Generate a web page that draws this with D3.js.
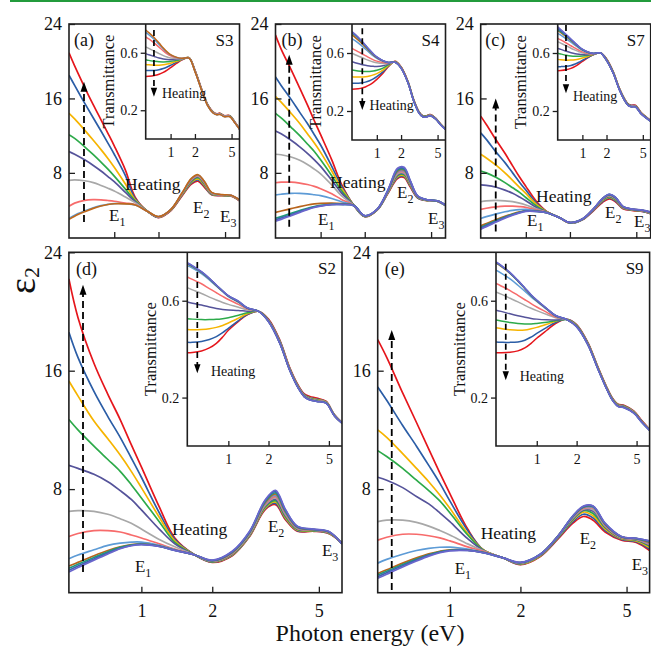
<!DOCTYPE html>
<html>
<head>
<meta charset="utf-8">
<script src="https://cdn.jsdelivr.net/npm/d3@7"></script>
<style>
  body { margin: 0; background: #fff; }
  svg { display: block; }
  text { font-family: "Liberation Serif", "Times New Roman", serif; fill: #111; }
</style>
</head>
<body>
<svg id="fig" width="651" height="648"></svg>
<script>
// Photon energy grid (eV) shared by every spectrum
const energyEV = [0.45, 0.5, 0.6, 0.7, 0.8, 0.9, 1.0, 1.2, 1.4, 1.7, 2.0, 2.4, 2.8, 3.2, 3.5, 3.8, 4.2, 4.8, 5.4, 6.0];

// Tick values
const epsTicks = [8, 16, 24];
const energyTicks = [1, 2, 5];
const transTicks = [0.2, 0.6];

// Line colours, in drawing order (first = lowest temperature)
const palette12 = ["#e5161c", "#2b5da6", "#f6b400", "#2daa4a", "#55539a", "#a8a8a8",
                   "#f76b6b", "#5d9bd6", "#b8641c", "#1f9a7c", "#3d63b0", "#6a66cc"];
const palette9 = ["#e5161c", "#2b5da6", "#f6b400", "#2daa4a", "#55539a", "#a8a8a8",
                  "#f76b6b", "#5d9bd6", "#c0681a"];

// ---- S3 ----
const eps2_S3 = [
  [20.9, 19.5, 17.2, 15.3, 13.7, 12.25, 10.9, 8.3, 5.4, 3.85, 3.2, 3.95, 5.5, 6.8, 7.1, 6.5, 5.65, 5.55, 5.5, 5.0],
  [18.5, 17.4, 15.5, 13.9, 12.5, 11.2, 10.0, 7.7, 5.25, 3.85, 3.22, 4.0, 5.57, 6.9, 7.23, 6.62, 5.68, 5.57, 5.51, 5.02],
  [14.4, 13.8, 12.6, 11.5, 10.5, 9.55, 8.6, 6.8, 5.1, 3.85, 3.24, 4.02, 5.62, 7.0, 7.36, 6.74, 5.72, 5.59, 5.53, 5.04],
  [12.1, 11.7, 10.8, 9.95, 9.15, 8.4, 7.65, 6.25, 5.0, 3.85, 3.25, 4.04, 5.67, 7.1, 7.48, 6.85, 5.76, 5.6, 5.54, 5.05],
  [10.3, 10.0, 9.4, 8.8, 8.2, 7.6, 7.05, 5.9, 4.9, 3.85, 3.26, 4.05, 5.71, 7.18, 7.58, 6.93, 5.8, 5.62, 5.56, 5.06],
  [7.2, 7.25, 7.15, 6.95, 6.65, 6.35, 6.05, 5.4, 4.8, 3.85, 3.27, 4.06, 5.74, 7.25, 7.66, 7.0, 5.83, 5.63, 5.57, 5.07],
  [4.4, 4.75, 5.05, 5.12, 5.1, 5.03, 4.95, 4.75, 4.6, 3.85, 3.28, 4.07, 5.76, 7.31, 7.72, 7.05, 5.86, 5.64, 5.58, 5.08],
  [3.1, 3.45, 3.9, 4.25, 4.48, 4.62, 4.7, 4.68, 4.55, 3.85, 3.29, 4.08, 5.78, 7.36, 7.77, 7.09, 5.88, 5.65, 5.59, 5.09],
  [3.0, 3.35, 3.82, 4.18, 4.44, 4.6, 4.68, 4.67, 4.55, 3.85, 3.3, 4.08, 5.8, 7.4, 7.8, 7.12, 5.9, 5.66, 5.6, 5.1]
];
const trans_S3 = [
  [.435, .436, .441, .45, .463, .479, .496, .527, .55, .566, .48, .345, .24, .19, .176, .18, .163, .163, .118, .072],
  [.477, .476, .477, .482, .49, .501, .513, .535, .552, .565, .478, .343, .238, .188, .175, .178, .162, .162, .117, .071],
  [.519, .516, .513, .513, .516, .521, .527, .541, .554, .565, .476, .341, .236, .187, .174, .177, .161, .161, .116, .071],
  [.552, .547, .541, .537, .536, .537, .54, .547, .556, .565, .475, .34, .235, .186, .173, .176, .16, .16, .115, .07],
  [.594, .586, .574, .564, .557, .553, .551, .553, .558, .564, .474, .339, .234, .185, .172, .175, .159, .159, .114, .07],
  [.641, .63, .611, .594, .58, .57, .563, .559, .559, .564, .473, .338, .233, .184, .171, .174, .158, .158, .114, .069],
  [.711, .696, .667, .639, .613, .593, .579, .565, .56, .564, .472, .337, .232, .183, .17, .173, .157, .157, .113, .069],
  [.742, .725, .692, .658, .627, .602, .585, .567, .56, .563, .471, .336, .231, .182, .169, .172, .156, .156, .112, .068],
  [.758, .74, .704, .667, .633, .606, .587, .568, .561, .563, .47, .335, .23, .181, .168, .171, .155, .155, .112, .068]
];

// ---- S4 ----
const eps2_S4 = [
  [22.8, 21.3, 19.1, 17.1, 15.3, 13.6, 12.1, 9.4, 6.8, 4.5, 3.3, 4.0, 5.8, 7.4, 7.5, 6.5, 5.3, 5.0, 4.95, 4.5],
  [18.3, 17.4, 15.9, 14.5, 13.3, 12.1, 11.0, 8.7, 6.6, 4.5, 3.31, 4.01, 5.85, 7.5, 7.6, 6.6, 5.33, 5.01, 4.96, 4.5],
  [16.2, 15.6, 14.4, 13.3, 12.2, 11.2, 10.2, 8.2, 6.35, 4.5, 3.32, 4.02, 5.9, 7.6, 7.7, 6.7, 5.36, 5.02, 4.96, 4.51],
  [14.4, 13.9, 12.9, 12.0, 11.1, 10.3, 9.4, 7.7, 6.1, 4.5, 3.33, 4.03, 5.93, 7.7, 7.8, 6.78, 5.38, 5.03, 4.97, 4.51],
  [12.5, 12.2, 11.5, 10.8, 10.1, 9.4, 8.7, 7.2, 5.85, 4.5, 3.34, 4.04, 5.96, 7.8, 7.9, 6.85, 5.4, 5.04, 4.97, 4.52],
  [10.0, 9.95, 9.7, 9.35, 8.9, 8.4, 7.9, 6.7, 5.55, 4.5, 3.35, 4.05, 6.0, 7.9, 8.0, 6.9, 5.42, 5.05, 4.98, 4.52],
  [6.94, 7.0, 7.0, 6.9, 6.75, 6.55, 6.3, 5.75, 5.15, 4.5, 3.36, 4.06, 6.03, 8.0, 8.1, 6.95, 5.44, 5.06, 4.98, 4.53],
  [5.62, 5.7, 5.8, 5.8, 5.75, 5.65, 5.55, 5.25, 4.9, 4.5, 3.37, 4.07, 6.06, 8.1, 8.2, 7.0, 5.46, 5.07, 4.99, 4.53],
  [3.76, 3.9, 4.15, 4.38, 4.55, 4.66, 4.72, 4.75, 4.7, 4.5, 3.38, 4.08, 6.1, 8.2, 8.3, 7.05, 5.48, 5.08, 4.99, 4.54],
  [3.12, 3.3, 3.65, 3.95, 4.2, 4.38, 4.5, 4.62, 4.62, 4.48, 3.39, 4.08, 6.12, 8.3, 8.4, 7.1, 5.49, 5.09, 5.0, 4.54],
  [2.95, 3.15, 3.5, 3.85, 4.12, 4.33, 4.46, 4.6, 4.61, 4.48, 3.4, 4.09, 6.15, 8.4, 8.5, 7.15, 5.5, 5.09, 5.0, 4.55],
  [2.8, 3.0, 3.4, 3.75, 4.05, 4.28, 4.43, 4.58, 4.6, 4.47, 3.4, 4.1, 6.18, 8.5, 8.6, 7.2, 5.52, 5.1, 5.0, 4.55]
];
const trans_S4 = [
  [.35, .351, .356, .366, .38, .398, .418, .46, .505, .543, .505, .405, .275, .194, .168, .166, .176, .15, .108, .077],
  [.391, .391, .393, .399, .409, .422, .437, .47, .509, .542, .503, .403, .273, .192, .167, .165, .175, .149, .107, .076],
  [.437, .435, .434, .436, .441, .449, .458, .482, .513, .541, .502, .402, .272, .191, .166, .164, .174, .148, .106, .076],
  [.483, .479, .474, .472, .473, .476, .481, .496, .518, .54, .501, .401, .271, .19, .165, .163, .173, .147, .106, .075],
  [.54, .533, .523, .515, .51, .508, .507, .512, .523, .539, .5, .4, .27, .189, .164, .162, .172, .147, .105, .075],
  [.598, .588, .572, .558, .547, .538, .532, .527, .528, .538, .499, .399, .269, .188, .163, .161, .171, .146, .105, .074],
  [.632, .62, .6, .582, .566, .553, .544, .534, .53, .537, .498, .398, .268, .187, .162, .16, .17, .145, .104, .074],
  [.70, .685, .656, .628, .602, .58, .563, .542, .533, .536, .497, .397, .267, .186, .161, .159, .169, .145, .104, .073],
  [.725, .708, .675, .642, .612, .587, .568, .545, .534, .536, .497, .397, .267, .186, .161, .159, .169, .144, .103, .073],
  [.74, .722, .686, .65, .618, .591, .571, .546, .535, .535, .496, .396, .266, .185, .16, .158, .168, .144, .103, .073],
  [.745, .727, .69, .653, .62, .593, .572, .547, .535, .535, .496, .396, .266, .185, .16, .158, .168, .143, .103, .072],
  [.747, .729, .692, .655, .622, .594, .573, .547, .535, .535, .495, .395, .265, .184, .159, .157, .167, .143, .102, .072]
];

// ---- S7 ----
const eps2_S7 = [
  [14.1, 13.2, 11.5, 10.1, 8.75, 7.55, 6.55, 4.85, 3.85, 3.2, 2.6, 2.95, 3.9, 4.85, 5.2, 4.9, 4.15, 3.95, 3.85, 3.6],
  [12.3, 11.6, 10.2, 9.1, 8.0, 7.0, 6.15, 4.7, 3.83, 3.2, 2.61, 2.97, 3.95, 4.95, 5.3, 5.0, 4.2, 3.98, 3.87, 3.62],
  [10.0, 9.6, 8.8, 8.0, 7.2, 6.45, 5.8, 4.55, 3.82, 3.2, 2.62, 2.98, 4.0, 5.05, 5.4, 5.1, 4.25, 4.0, 3.9, 3.64],
  [8.2, 8.0, 7.5, 6.95, 6.4, 5.9, 5.35, 4.4, 3.8, 3.2, 2.63, 3.0, 4.02, 5.1, 5.45, 5.15, 4.28, 4.02, 3.92, 3.66],
  [6.7, 6.65, 6.45, 6.15, 5.8, 5.4, 5.0, 4.25, 3.78, 3.2, 2.64, 3.0, 4.04, 5.15, 5.5, 5.2, 4.3, 4.03, 3.93, 3.68],
  [4.9, 5.0, 5.05, 5.0, 4.9, 4.75, 4.55, 4.1, 3.76, 3.2, 2.64, 3.01, 4.05, 5.18, 5.55, 5.25, 4.32, 4.04, 3.94, 3.7],
  [4.08, 4.2, 4.35, 4.42, 4.42, 4.38, 4.3, 4.0, 3.75, 3.2, 2.65, 3.02, 4.06, 5.2, 5.58, 5.28, 4.33, 4.05, 3.95, 3.72],
  [3.1, 3.3, 3.6, 3.82, 3.97, 4.05, 4.07, 3.92, 3.73, 3.2, 2.65, 3.02, 4.07, 5.22, 5.62, 5.3, 4.35, 4.06, 3.96, 3.74],
  [2.3, 2.55, 2.98, 3.33, 3.6, 3.8, 3.92, 3.88, 3.72, 3.2, 2.66, 3.03, 4.08, 5.24, 5.65, 5.33, 4.36, 4.07, 3.97, 3.76],
  [2.15, 2.42, 2.88, 3.26, 3.55, 3.76, 3.9, 3.87, 3.72, 3.2, 2.66, 3.03, 4.08, 5.25, 5.67, 5.35, 4.37, 4.08, 3.98, 3.77],
  [2.05, 2.33, 2.8, 3.2, 3.5, 3.73, 3.88, 3.86, 3.71, 3.2, 2.66, 3.03, 4.09, 5.26, 5.68, 5.37, 4.38, 4.08, 3.98, 3.78],
  [1.93, 2.22, 2.72, 3.13, 3.45, 3.7, 3.86, 3.85, 3.71, 3.2, 2.67, 3.04, 4.1, 5.28, 5.7, 5.4, 4.4, 4.1, 4.0, 3.8]
];
const trans_S7 = [
  [.478, .479, .484, .494, .508, .525, .542, .57, .59, .6, .56, .47, .36, .285, .25, .24, .24, .19, .16, .135],
  [.506, .506, .508, .514, .524, .536, .549, .572, .59, .6, .558, .468, .358, .283, .248, .238, .237, .188, .158, .134],
  [.556, .553, .55, .551, .554, .559, .565, .578, .591, .6, .556, .466, .356, .281, .246, .236, .235, .187, .157, .133],
  [.598, .593, .585, .58, .578, .578, .579, .585, .592, .6, .555, .465, .355, .28, .245, .235, .234, .186, .156, .132],
  [.632, .625, .612, .602, .595, .591, .589, .589, .593, .6, .554, .464, .354, .279, .244, .234, .233, .185, .155, .132],
  [.678, .668, .65, .633, .62, .609, .601, .594, .594, .6, .553, .463, .353, .278, .243, .233, .232, .184, .155, .131],
  [.701, .69, .669, .65, .633, .619, .608, .597, .595, .6, .552, .462, .352, .277, .242, .232, .231, .183, .154, .131],
  [.736, .723, .698, .674, .652, .634, .619, .602, .596, .6, .551, .461, .351, .276, .241, .231, .23, .182, .154, .13],
  [.755, .741, .713, .686, .661, .64, .623, .604, .596, .6, .55, .46, .35, .275, .24, .23, .229, .182, .153, .13],
  [.762, .747, .718, .69, .664, .642, .624, .604, .597, .6, .55, .46, .35, .275, .24, .23, .229, .181, .153, .13],
  [.77, .754, .723, .693, .666, .643, .625, .605, .597, .6, .549, .459, .349, .274, .239, .229, .228, .181, .152, .129],
  [.78, .762, .728, .697, .668, .645, .626, .605, .597, .6, .549, .459, .349, .274, .239, .229, .228, .18, .152, .129]
];

// ---- S2 ----
const eps2_S2 = [
  [22.2, 19.6, 16.5, 14.4, 12.7, 11.0, 9.5, 6.8, 4.7, 3.55, 3.05, 3.5, 4.8, 6.6, 6.95, 5.95, 5.15, 5.15, 5.0, 4.35],
  [18.6, 16.9, 14.6, 12.9, 11.5, 10.1, 8.8, 6.4, 4.6, 3.55, 3.07, 3.53, 4.83, 6.66, 7.04, 6.02, 5.19, 5.17, 5.02, 4.35],
  [15.3, 14.3, 12.6, 11.4, 10.3, 9.2, 8.1, 6.1, 4.5, 3.55, 3.09, 3.56, 4.87, 6.72, 7.13, 6.09, 5.23, 5.19, 5.04, 4.34],
  [12.7, 12.0, 10.9, 10.0, 9.2, 8.3, 7.4, 5.8, 4.4, 3.55, 3.1, 3.59, 4.9, 6.78, 7.22, 6.16, 5.27, 5.2, 5.05, 4.34],
  [9.6, 9.4, 9.0, 8.5, 7.9, 7.3, 6.6, 5.3, 4.3, 3.55, 3.12, 3.62, 4.93, 6.84, 7.31, 6.23, 5.3, 5.22, 5.07, 4.33],
  [6.5, 6.55, 6.5, 6.3, 6.0, 5.7, 5.3, 4.6, 4.1, 3.55, 3.13, 3.64, 4.96, 6.9, 7.4, 6.3, 5.33, 5.23, 5.08, 4.33],
  [4.8, 5.0, 5.2, 5.2, 5.1, 4.9, 4.7, 4.3, 3.95, 3.55, 3.14, 3.67, 5.0, 6.96, 7.49, 6.36, 5.36, 5.24, 5.09, 4.32],
  [3.3, 3.55, 3.9, 4.2, 4.35, 4.42, 4.42, 4.2, 3.9, 3.55, 3.15, 3.7, 5.03, 7.02, 7.58, 6.42, 5.39, 5.25, 5.1, 4.32],
  [2.8, 3.05, 3.5, 3.85, 4.1, 4.25, 4.3, 4.15, 3.88, 3.55, 3.16, 3.72, 5.06, 7.08, 7.67, 6.48, 5.42, 5.26, 5.11, 4.31],
  [2.65, 2.92, 3.38, 3.76, 4.06, 4.22, 4.28, 4.14, 3.87, 3.55, 3.17, 3.75, 5.09, 7.14, 7.75, 6.54, 5.45, 5.27, 5.12, 4.31],
  [2.52, 2.8, 3.28, 3.68, 4.0, 4.19, 4.26, 4.13, 3.86, 3.55, 3.18, 3.77, 5.12, 7.2, 7.84, 6.6, 5.47, 5.28, 5.13, 4.3],
  [2.4, 2.7, 3.2, 3.62, 3.97, 4.17, 4.25, 4.12, 3.86, 3.55, 3.2, 3.8, 5.15, 7.25, 7.92, 6.65, 5.5, 5.3, 5.15, 4.3]
];
const trans_S2 = [
  [.385, .386, .392, .405, .424, .45, .478, .515, .542, .556, .525, .438, .325, .25, .215, .205, .198, .185, .13, .097],
  [.428, .428, .432, .44, .452, .468, .486, .518, .543, .556, .522, .435, .322, .247, .212, .2, .194, .183, .129, .097],
  [.481, .48, .481, .484, .49, .498, .508, .528, .546, .556, .52, .432, .32, .245, .21, .198, .192, .182, .128, .096],
  [.526, .524, .522, .522, .523, .526, .53, .54, .55, .556, .519, .43, .319, .244, .209, .196, .19, .181, .128, .096],
  [.595, .59, .582, .574, .568, .564, .562, .56, .557, .556, .518, .429, .318, .243, .208, .195, .189, .18, .127, .096],
  [.654, .645, .63, .615, .603, .593, .585, .573, .562, .556, .517, .428, .317, .242, .207, .194, .188, .18, .127, .095],
  [.698, .688, .67, .65, .633, .618, .605, .585, .566, .556, .516, .427, .316, .241, .206, .193, .187, .179, .126, .095],
  [.745, .735, .712, .686, .66, .637, .617, .593, .569, .556, .515, .426, .315, .24, .205, .192, .186, .179, .126, .095],
  [.752, .741, .717, .69, .663, .639, .619, .595, .57, .556, .515, .425, .314, .239, .204, .191, .185, .178, .125, .094],
  [.753, .742, .718, .691, .664, .64, .62, .596, .57, .556, .514, .425, .314, .239, .204, .191, .185, .178, .125, .094],
  [.755, .743, .719, .692, .664, .64, .62, .597, .57, .556, .514, .424, .313, .238, .203, .19, .184, .177, .125, .094],
  [.757, .745, .72, .693, .665, .641, .621, .598, .571, .556, .513, .424, .313, .238, .203, .19, .184, .177, .124, .094]
];

// ---- S9 ----
const eps2_S9 = [
  [18.1, 16.9, 14.5, 12.5, 10.7, 9.1, 7.7, 5.3, 3.9, 3.35, 2.9, 3.45, 4.6, 5.7, 6.15, 5.9, 5.1, 4.55, 4.4, 3.85],
  [14.9, 14.0, 12.3, 10.9, 9.6, 8.4, 7.2, 5.2, 3.9, 3.35, 2.92, 3.48, 4.65, 5.8, 6.3, 6.05, 5.2, 4.6, 4.45, 3.95],
  [12.0, 11.5, 10.4, 9.4, 8.5, 7.6, 6.7, 5.0, 3.9, 3.35, 2.94, 3.5, 4.7, 5.9, 6.45, 6.2, 5.3, 4.65, 4.5, 4.05],
  [10.6, 10.2, 9.4, 8.6, 7.9, 7.2, 6.4, 4.9, 3.88, 3.35, 2.96, 3.52, 4.72, 5.95, 6.55, 6.35, 5.4, 4.68, 4.55, 4.15],
  [8.8, 8.6, 8.1, 7.5, 7.0, 6.4, 5.8, 4.65, 3.86, 3.35, 2.98, 3.54, 4.75, 6.0, 6.6, 6.5, 5.45, 4.7, 4.58, 4.2],
  [5.8, 5.9, 5.9, 5.75, 5.5, 5.2, 4.9, 4.3, 3.84, 3.35, 3.0, 3.56, 4.77, 6.05, 6.65, 6.6, 5.5, 4.72, 4.6, 4.25],
  [4.55, 4.75, 4.95, 4.95, 4.85, 4.7, 4.5, 4.1, 3.8, 3.35, 3.01, 3.57, 4.78, 6.1, 6.7, 6.7, 5.55, 4.74, 4.62, 4.3],
  [3.0, 3.25, 3.6, 3.85, 4.0, 4.07, 4.08, 3.95, 3.75, 3.35, 3.02, 3.58, 4.79, 6.12, 6.75, 6.75, 5.6, 4.76, 4.64, 4.35],
  [2.3, 2.55, 3.0, 3.35, 3.62, 3.8, 3.9, 3.88, 3.72, 3.35, 3.03, 3.59, 4.8, 6.15, 6.78, 6.8, 5.62, 4.77, 4.65, 4.4],
  [2.2, 2.45, 2.9, 3.27, 3.56, 3.76, 3.87, 3.87, 3.71, 3.35, 3.04, 3.6, 4.8, 6.17, 6.8, 6.82, 5.65, 4.78, 4.66, 4.45],
  [2.08, 2.35, 2.82, 3.2, 3.52, 3.73, 3.85, 3.86, 3.71, 3.35, 3.04, 3.6, 4.8, 6.18, 6.82, 6.84, 5.67, 4.78, 4.67, 4.48],
  [1.97, 2.25, 2.74, 3.14, 3.47, 3.7, 3.83, 3.85, 3.7, 3.35, 3.05, 3.6, 4.8, 6.2, 6.85, 6.86, 5.7, 4.8, 4.68, 4.5]
];
const trans_S9 = [
  [.385, .385, .387, .393, .405, .424, .445, .478, .506, .524, .502, .428, .33, .248, .2, .174, .168, .145, .104, .07],
  [.43, .429, .428, .43, .437, .45, .465, .49, .51, .523, .5, .426, .328, .246, .198, .172, .165, .143, .102, .068],
  [.488, .485, .48, .478, .479, .484, .49, .503, .515, .523, .499, .425, .327, .245, .197, .171, .164, .142, .101, .068],
  [.52, .516, .51, .506, .504, .504, .506, .511, .517, .522, .498, .424, .326, .244, .196, .17, .163, .141, .1, .067],
  [.561, .556, .546, .538, .532, .527, .524, .521, .52, .522, .497, .423, .325, .243, .195, .169, .162, .14, .1, .067],
  [.636, .627, .61, .595, .581, .569, .559, .543, .53, .522, .496, .422, .324, .242, .194, .168, .161, .14, .099, .066],
  [.671, .661, .642, .622, .604, .588, .574, .552, .533, .522, .495, .421, .323, .241, .193, .167, .16, .139, .099, .066],
  [.726, .714, .69, .664, .639, .616, .597, .564, .537, .522, .494, .42, .322, .24, .192, .166, .159, .138, .098, .065],
  [.755, .742, .713, .681, .65, .622, .6, .566, .538, .522, .494, .42, .322, .24, .192, .166, .159, .138, .098, .065],
  [.757, .744, .714, .682, .651, .623, .601, .567, .538, .522, .493, .419, .321, .239, .191, .165, .158, .137, .097, .065],
  [.758, .745, .715, .683, .652, .624, .602, .567, .539, .522, .493, .419, .321, .239, .191, .165, .158, .137, .097, .064],
  [.76, .746, .716, .684, .653, .625, .603, .568, .539, .522, .492, .418, .32, .238, .19, .164, .157, .136, .096, .064]
];

// ---------------- layout ----------------
const panels = [
  { tag: "(a)", sample: "S3", eps: eps2_S3, trans: trans_S3, colors: palette9,
    box: { x: 69, y: 24, w: 170.5, h: 214 }, insetLeft: 145.7, insetBottom: 139, bottomRow: false,
    mainArrow: { e: 0.593, from: 2.72, to: 17.8 }, insetArrow: { e: 0.593, from: 0.758, to: 0.294 },
    pos: { tag: [5, 22], heat: [56, 166], e1: [40, 196.5], e2: [124, 189], e3: [151, 198], insetHeat: [93, 74] } },
  { tag: "(b)", sample: "S4", eps: eps2_S4, trans: trans_S4, colors: palette12,
    box: { x: 275.5, y: 24, w: 170, h: 214 }, insetLeft: 352, insetBottom: 140, bottomRow: false,
    mainArrow: { e: 0.58, from: 2.2, to: 20.7 }, insetArrow: { e: 0.635, from: 0.77, to: 0.207 },
    pos: { tag: [6, 22], heat: [54.5, 164], e1: [42.5, 201], e2: [121.5, 174], e3: [152.5, 200], insetHeat: [94, 86] } },
  { tag: "(c)", sample: "S7", eps: eps2_S7, trans: trans_S7, colors: palette12,
    box: { x: 480.7, y: 24, w: 170, h: 214 }, insetLeft: 557.7, insetBottom: 140, bottomRow: false,
    mainArrow: { e: 0.594, from: 1.7, to: 16.0 }, insetArrow: { e: 0.595, from: 0.793, to: 0.322 },
    pos: { tag: [4.5, 22], heat: [55.3, 178], e1: [46.3, 202], e2: [124.3, 194], e3: [153.3, 203], insetHeat: [92.3, 77] } },
  { tag: "(d)", sample: "S2", eps: eps2_S2, trans: trans_S2, colors: palette12,
    box: { x: 68.9, y: 252.3, w: 273.1, h: 340.4 }, insetLeft: 187.3, insetBottom: 446, bottomRow: true,
    mainArrow: { e: 0.53, from: 2.4, to: 21.8 }, insetArrow: { e: 0.552, from: 0.76, to: 0.30 },
    pos: { tag: [7, 23], heat: [103, 283], e1: [66, 320], e2: [199, 280], e3: [253, 304], insetHeat: [142, 124] } },
  { tag: "(e)", sample: "S9", eps: eps2_S9, trans: trans_S9, colors: palette12,
    box: { x: 377.7, y: 252.3, w: 271.9, h: 340.4 }, insetLeft: 496, insetBottom: 446, bottomRow: true,
    mainArrow: { e: 0.53, from: 1.18, to: 18.75 }, insetArrow: { e: 0.55, from: 0.753, to: 0.272 },
    pos: { tag: [7, 23], heat: [103, 287], e1: [77, 322], e2: [202, 292], e3: [254, 318], insetHeat: [142, 129] } }
];

const svg = d3.select("#fig");
const ink = "#1e1e1e";

// thin green rule along the top
svg.append("line").attr("x1", 10).attr("x2", 651).attr("y1", 1).attr("y2", 1)
  .attr("stroke", "#239b3c").attr("stroke-width", 2);

function energyScale(r0, r1) {
  return d3.scalePow().exponent(0.16).domain([0.45, 6]).range([r0, r1]);
}

function styleAxis(g, fontSize) {
  g.select(".domain").remove();
  g.selectAll(".tick line").attr("stroke", ink).attr("stroke-width", 1.3);
  g.selectAll(".tick text").attr("font-size", fontSize).attr("fill", "#111")
    .attr("font-family", '"Liberation Serif", serif');
}

function drawArrow(g, x, y0, y1, headLen, headHalf, dash, width) {
  const dir = Math.sign(y1 - y0);
  g.append("line").attr("x1", x).attr("x2", x).attr("y1", y0).attr("y2", y1 - dir * headLen * 0.8)
    .attr("stroke", "#000").attr("stroke-width", width).attr("stroke-dasharray", dash);
  g.append("path")
    .attr("d", `M${x},${y1} L${x - headHalf},${y1 - dir * headLen} L${x + headHalf},${y1 - dir * headLen} Z`)
    .attr("fill", "#000");
}

function subLabel(g, x, y, base, sub, size, subSize) {
  const t = g.append("text").attr("x", x).attr("y", y).attr("font-size", size);
  t.append("tspan").text(base);
  t.append("tspan").attr("font-size", subSize).attr("dy", size * 0.3).text(sub);
}

panels.forEach((p, idx) => {
  const b = p.box;
  const g = svg.append("g");
  const x = energyScale(b.x, b.x + b.w);
  const y = d3.scaleLinear().domain([1, 24]).range([b.y + b.h, b.y]);

  const clipId = "clip" + idx;
  svg.append("clipPath").attr("id", clipId).append("rect")
    .attr("x", b.x).attr("y", b.y).attr("width", b.w).attr("height", b.h);

  // permittivity spectra
  const line = d3.line().x(d => x(d[0])).y(d => y(d[1])).curve(d3.curveCatmullRom.alpha(0.5));
  const curves = g.append("g").attr("clip-path", `url(#${clipId})`);
  p.eps.forEach((row, i) => {
    curves.append("path").datum(energyEV.map((e, k) => [e, row[k]]))
      .attr("d", line).attr("fill", "none").attr("stroke", p.colors[i]).attr("stroke-width", 1.7);
  });

  // axes (ticks point inward)
  const ax = g.append("g").attr("transform", `translate(0,${b.y + b.h})`)
    .call(d3.axisBottom(x).tickValues(energyTicks).tickSizeInner(-6).tickSizeOuter(0).tickPadding(12)
      .tickFormat(p.bottomRow ? d3.format("d") : () => ""));
  styleAxis(ax, 18);
  const ay = g.append("g").attr("transform", `translate(${b.x},0)`)
    .call(d3.axisLeft(y).tickValues(epsTicks).tickSizeInner(-6).tickSizeOuter(0).tickPadding(7).tickFormat(d3.format("d")));
  styleAxis(ay, 18);

  // heating arrow
  drawArrow(g, x(p.mainArrow.e), y(p.mainArrow.from), y(p.mainArrow.to), 10, 3.5, "7,4", 1.8);

  // labels in the main frame
  g.append("text").attr("x", b.x + p.pos.tag[0]).attr("y", b.y + p.pos.tag[1]).attr("font-size", 18).text(p.tag);
  g.append("text").attr("x", b.x + p.pos.heat[0]).attr("y", b.y + p.pos.heat[1]).attr("font-size", 17.5).text("Heating");
  subLabel(g, b.x + p.pos.e1[0], b.y + p.pos.e1[1], "E", "1", 17, 12);
  subLabel(g, b.x + p.pos.e2[0], b.y + p.pos.e2[1], "E", "2", 17, 12);
  subLabel(g, b.x + p.pos.e3[0], b.y + p.pos.e3[1], "E", "3", 17, 12);

  // ---- transmittance inset ----
  const right = b.x + b.w;
  const xi = energyScale(p.insetLeft, right);
  const yi = d3.scaleLinear().domain([0, 0.8]).range([p.insetBottom, b.y]);
  const ig = g.append("g");
  ig.append("rect").attr("x", p.insetLeft).attr("y", b.y).attr("width", right - p.insetLeft)
    .attr("height", p.insetBottom - b.y).attr("fill", "#fff");
  const iclip = "iclip" + idx;
  svg.append("clipPath").attr("id", iclip).append("rect")
    .attr("x", p.insetLeft).attr("y", b.y).attr("width", right - p.insetLeft).attr("height", p.insetBottom - b.y);
  const iline = d3.line().x(d => xi(d[0])).y(d => yi(d[1])).curve(d3.curveCatmullRom.alpha(0.5));
  const icurves = ig.append("g").attr("clip-path", `url(#${iclip})`);
  p.trans.forEach((row, i) => {
    icurves.append("path").datum(energyEV.map((e, k) => [e, row[k]]))
      .attr("d", iline).attr("fill", "none").attr("stroke", p.colors[i]).attr("stroke-width", 1.5);
  });
  const iax = ig.append("g").attr("transform", `translate(0,${p.insetBottom})`)
    .call(d3.axisBottom(xi).tickValues(energyTicks).tickSizeInner(-5).tickSizeOuter(0).tickPadding(8.5).tickFormat(d3.format("d")));
  styleAxis(iax, 14);
  const iay = ig.append("g").attr("transform", `translate(${p.insetLeft},0)`)
    .call(d3.axisLeft(yi).tickValues(transTicks).tickSizeInner(5).tickSizeOuter(0).tickPadding(3).tickFormat(d3.format(".1f")));
  styleAxis(iay, 14);
  ig.append("path")
    .attr("d", `M${p.insetLeft},${b.y} V${p.insetBottom} H${right}`)
    .attr("fill", "none").attr("stroke", ink).attr("stroke-width", 1.6);

  drawArrow(ig, xi(p.insetArrow.e), yi(p.insetArrow.from), yi(p.insetArrow.to), 9, 3.2, "6,4", 1.7);
  ig.append("text").attr("x", b.x + p.pos.insetHeat[0]).attr("y", b.y + p.pos.insetHeat[1])
    .attr("font-size", 14).text("Heating");
  ig.append("text").attr("x", right - 6).attr("y", b.y + 22).attr("text-anchor", "end")
    .attr("font-size", 17).text(p.sample);
  ig.append("text")
    .attr("transform", `translate(${p.insetLeft - 37},${(b.y + p.insetBottom) / 2}) rotate(-90)`)
    .attr("text-anchor", "middle").attr("dominant-baseline", "central")
    .attr("font-size", 16.5).text("Transmittance");

  // outer frame
  g.append("rect").attr("x", b.x).attr("y", b.y).attr("width", b.w).attr("height", b.h)
    .attr("fill", "none").attr("stroke", ink).attr("stroke-width", 1.6);
});

// shared axis titles
const yTitle = svg.append("text").attr("transform", "translate(35,294) rotate(-90)").attr("font-size", 38);
yTitle.append("tspan").text("\u03b5");
yTitle.append("tspan").attr("font-size", 22).attr("dy", 4).text("2");

svg.append("text").attr("x", 370).attr("y", 641).attr("text-anchor", "middle")
  .attr("font-size", 24).text("Photon energy (eV)");
</script>
</body>
</html>
